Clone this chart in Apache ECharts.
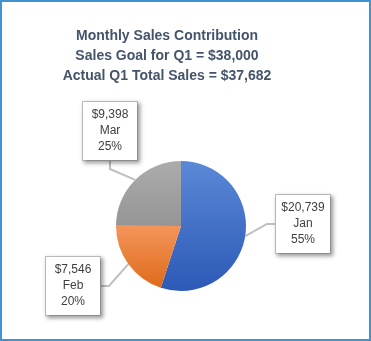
<!DOCTYPE html>
<html>
<head>
<meta charset="utf-8">
<script src="https://cdn.jsdelivr.net/npm/echarts@6/dist/echarts.min.js"></script>
<style>
html,body{margin:0;padding:0;background:#fff;}
#chart{width:371px;height:341px;}
</style>
</head>
<body>
<div id="chart"></div>
<script>
// ---- data ----
const months = ['Jan', 'Feb', 'Mar'];
const sales = [20739, 7546, 9398];
const titleLines = [
  'Monthly Sales Contribution',
  'Sales Goal for Q1 = $38,000',
  'Actual Q1 Total Sales = $37,682'
];

// ---- styles / layout ----
const sliceGradients = [
  ['#5b88d6', '#2c5ab6'],
  ['#f3955a', '#df6a1b'],
  ['#acacac', '#959595']
];
const labelCenters = [[303, 224], [73, 286], [110, 131]];

const chart = echarts.init(document.getElementById('chart'), null, { renderer: 'canvas' });

const fmt = n => '$' + n.toLocaleString('en-US');

chart.setOption({
  animation: false,
  backgroundColor: '#ffffff',
  title: {
    text: titleLines.join('\n'),
    left: 167,
    top: 26,
    padding: 0,
    textAlign: 'center',
    textStyle: {
      fontFamily: 'Liberation Sans',
      fontWeight: 'bold',
      fontSize: 14,
      lineHeight: 20,
      color: '#44546a'
    }
  },
  graphic: [{
    type: 'rect',
    silent: true,
    z: 100,
    shape: { x: 1, y: 1, width: 369, height: 339 },
    style: { fill: null, stroke: '#3f93d3', lineWidth: 2 }
  }],
  series: [{
    type: 'pie',
    center: [181, 226],
    radius: 65,
    startAngle: 90,
    clockwise: true,
    avoidLabelOverlap: false,
    emphasis: { disabled: true },
    itemStyle: { borderWidth: 0 },
    data: months.map((m, i) => ({
      name: m,
      value: sales[i],
      itemStyle: {
        color: new echarts.graphic.LinearGradient(0, 0, 0, 1, [
          { offset: 0, color: sliceGradients[i][0] },
          { offset: 1, color: sliceGradients[i][1] }
        ])
      }
    })),
    label: {
      show: true,
      position: 'outside',
      formatter: p => fmt(p.value) + '\n' + p.name + '\n' + Math.round(p.percent) + '%',
      fontFamily: 'Liberation Sans',
      fontSize: 12,
      lineHeight: 16,
      color: '#404040',
      align: 'center',
      backgroundColor: '#ffffff',
      borderColor: '#bfbfbf',
      borderWidth: 1,
      padding: [5, 5],
      width: 44,
      overflow: 'none',
      shadowColor: 'rgba(0,0,0,0.35)',
      shadowBlur: 4,
      shadowOffsetX: 2,
      shadowOffsetY: 2
    },
    labelLine: {
      show: true,
      length: 12,
      length2: 8,
      lineStyle: { color: '#bfbfbf', width: 2 }
    },
    labelLayout: function (params) {
      const c = labelCenters[params.dataIndex];
      return { x: c[0], y: c[1], align: 'center', verticalAlign: 'middle' };
    }
  }]
});
</script>
</body>
</html>
